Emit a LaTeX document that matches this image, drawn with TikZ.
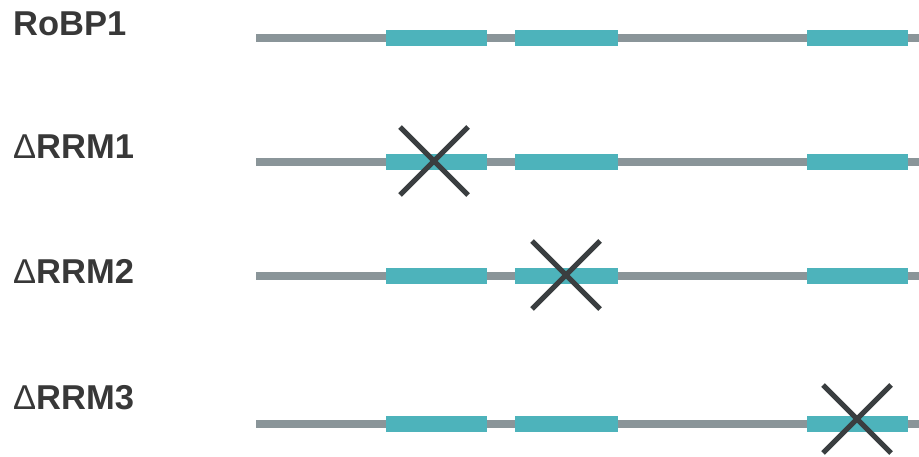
\documentclass[tikz,border=0pt]{standalone}
\usepackage{fontspec}
\setmainfont{Liberation Sans}
\definecolor{teal1}{HTML}{4DB3BB}
\definecolor{gline}{HTML}{8A9599}
\definecolor{xdark}{HTML}{3A3E40}
\definecolor{tdark}{HTML}{383838}
\begin{document}
\begin{tikzpicture}[x=1pt,y=-1pt,
  lbl/.style={anchor=base west,inner sep=0pt,text=tdark,font=\fontsize{34.5}{38}\selectfont\bfseries},
  backbone/.style={gline,line width=7.5pt},
  rrmbox/.style={fill=teal1,draw=none},
  xmark/.style={xdark,line width=5pt}]
\useasboundingbox (0,0) rectangle (919,457);
\fill[white] (0,0) rectangle (919,457);
% labels
\node[lbl] (l1) at (13,36) {RoBP1};
\node[lbl] (l2) at (13,159) {{\mdseries Δ}RRM1};
\node[lbl] (l3) at (13,284) {{\mdseries Δ}RRM2};
\node[lbl] (l4) at (13,409) {{\mdseries Δ}RRM3};
% rows
\foreach \y in {38,162,276,424}{
  \draw[backbone] (256,\y) -- (919,\y);
  \fill[rrmbox] (386,\y-8) rectangle (487,\y+8);
  \fill[rrmbox] (515,\y-8) rectangle (618,\y+8);
  \fill[rrmbox] (807,\y-8) rectangle (908,\y+8);
}
% crosses
\foreach \cx/\cy in {434/161,566/275,857/419}{
  \draw[xmark] (\cx-34,\cy-34) -- (\cx+34,\cy+34);
  \draw[xmark] (\cx+34,\cy-34) -- (\cx-34,\cy+34);
}
\end{tikzpicture}
\end{document}
